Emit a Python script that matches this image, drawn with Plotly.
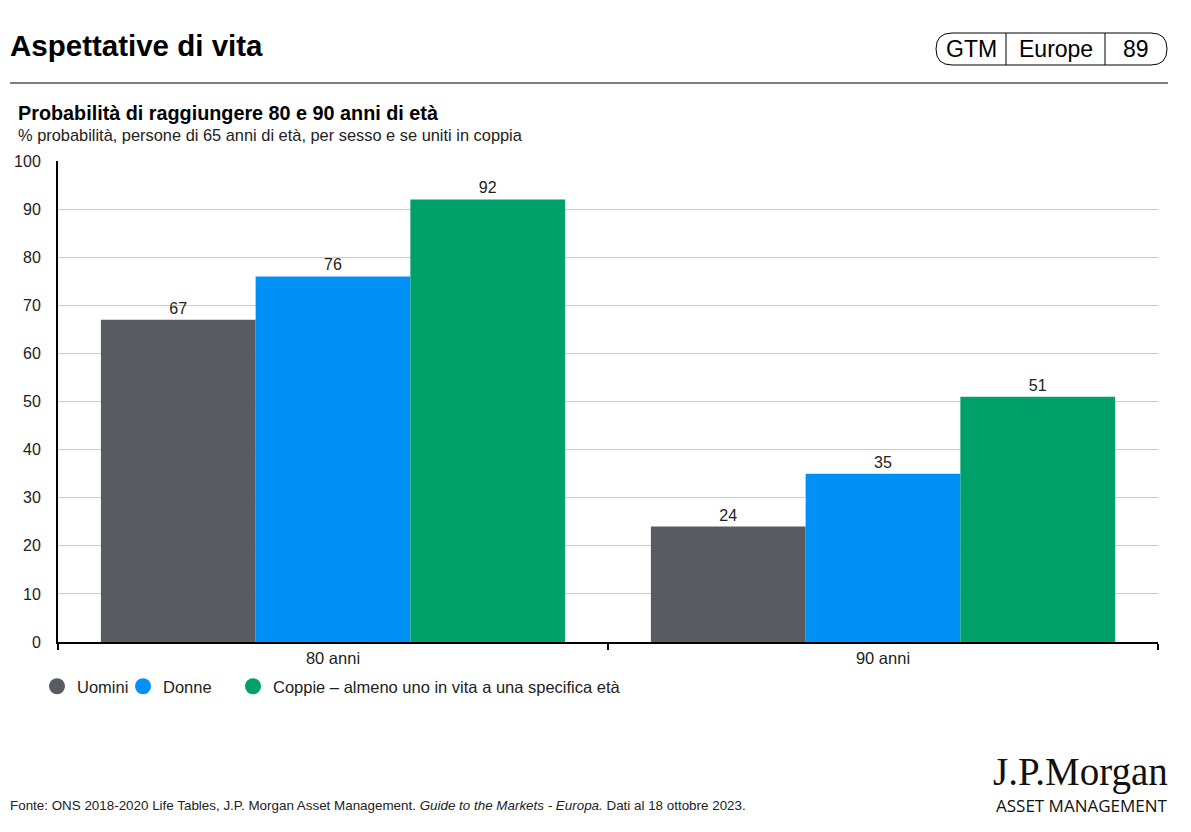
import plotly.graph_objects as go

categories = ["80 anni", "90 anni"]
series_names = ["Uomini", "Donne", "Coppie – almeno uno in vita a una specifica età"]
uomini = [67, 24]
donne = [76, 35]
coppie = [92, 51]
y_ticks = [0, 10, 20, 30, 40, 50, 60, 70, 80, 90, 100]

colors = ["#585b5f", "#0091f7", "#00a06b"]
values = [uomini, donne, coppie]
legend_ids = ["legend", "legend2", "legend3"]

FONT = "Liberation Sans, Arial"

fig = go.Figure()
for name, vals, col in zip(series_names, values, colors):
    fig.add_trace(go.Bar(
        x=categories, y=vals, name=name, marker_color=col, marker_line_width=0,
        text=[str(v) for v in vals], textposition="outside",
        textfont=dict(family=FONT, size=16, color="#222"),
        cliponaxis=False, showlegend=False))
for name, col, lg in zip(series_names, colors, legend_ids):
    fig.add_trace(go.Scatter(
        x=[None], y=[None], mode="markers", name=name, legend=lg,
        marker=dict(symbol="circle", size=18, color=col)))

# helpers: page pixel -> paper coords (plot area 58..1158 x, 161..642 y on page)
def px(x):
    return (x - 58) / 1100
def py(y):
    return 1 + (161 - y) / 481

def legend_at(xpage):
    return dict(orientation="h", x=px(xpage), y=py(669), xanchor="left", yanchor="top",
                font=dict(size=16.5, color="#222"), itemsizing="trace",
                bgcolor="rgba(0,0,0,0)")

fig.update_layout(
    width=1191, height=832,
    margin=dict(l=50, r=41, t=153, b=198, autoexpand=False),
    paper_bgcolor="white", plot_bgcolor="white",
    barmode="group", bargap=0.156, bargroupgap=0,
    font=dict(family=FONT, size=16, color="#222"),
    legend=legend_at(37),
    legend2=legend_at(123),
    legend3=legend_at(233),
    xaxis=dict(showline=True, linecolor="black", linewidth=2, ticks="outside",
               tickson="boundaries", ticklen=6, tickcolor="black", tickwidth=2,
               tickfont=dict(size=16.5, color="#222"), showgrid=False, automargin=False),
    yaxis=dict(range=[0, 100], tickvals=y_ticks, showline=True, linecolor="black",
               linewidth=2, showgrid=True, gridcolor="#cccccc", gridwidth=1,
               zeroline=False, ticks="", tickfont=dict(size=16, color="#222"),
               ticklabelstandoff=12, automargin=False),
)

# Header
fig.add_annotation(xref="paper", yref="paper", xanchor="left", yanchor="middle",
                   x=px(8), y=py(46), text="<b>Aspettative di vita</b>",
                   showarrow=False, font=dict(family=FONT, size=29.5, color="black"))
fig.add_shape(type="line", xref="paper", yref="paper",
              x0=px(10), x1=px(1168), y0=py(83), y1=py(83),
              line=dict(color="black", width=1))
# GTM pill
x0, x1, y0, y1, r = 936, 1167, 33, 65, 16
path = (f"M {px(x0+r)},{py(y0)} L {px(x1-r)},{py(y0)} "
        f"Q {px(x1)},{py(y0)} {px(x1)},{py((y0+y1)/2)} "
        f"Q {px(x1)},{py(y1)} {px(x1-r)},{py(y1)} "
        f"L {px(x0+r)},{py(y1)} "
        f"Q {px(x0)},{py(y1)} {px(x0)},{py((y0+y1)/2)} "
        f"Q {px(x0)},{py(y0)} {px(x0+r)},{py(y0)} Z")
fig.add_shape(type="path", xref="paper", yref="paper", path=path,
              line=dict(color="black", width=1))
for xd in [1006, 1105]:
    fig.add_shape(type="line", xref="paper", yref="paper", x0=px(xd), x1=px(xd),
                  y0=py(y0), y1=py(y1), line=dict(color="black", width=1))
for txt, xc in [("GTM", 971), ("Europe", 1055.5), ("89", 1136)]:
    fig.add_annotation(xref="paper", yref="paper", x=px(xc), y=py(49), text=txt,
                       showarrow=False, xanchor="center", yanchor="middle",
                       font=dict(family=FONT, size=23, color="black"))

# Subtitle
fig.add_annotation(xref="paper", yref="paper", xanchor="left", yanchor="middle",
                   x=px(16), y=py(113), text="<b>Probabilità di raggiungere 80 e 90 anni di età</b>",
                   showarrow=False, font=dict(family=FONT, size=19.8, color="black"))
fig.add_annotation(xref="paper", yref="paper", xanchor="left", yanchor="middle",
                   x=px(16), y=py(135), text="% probabilità, persone di 65 anni di età, per sesso e se uniti in coppia",
                   showarrow=False, font=dict(family=FONT, size=16.4, color="#222"))

# Footer
fig.add_annotation(xref="paper", yref="paper", xanchor="left", yanchor="middle",
                   x=px(8), y=py(805),
                   text="Fonte: ONS 2018-2020 Life Tables, J.P. Morgan Asset Management. <i>Guide to the Markets - Europa.</i> Dati al 18 ottobre 2023.",
                   showarrow=False, font=dict(family=FONT, size=13.4, color="#222"))
fig.add_annotation(xref="paper", yref="paper", xanchor="right", yanchor="middle",
                   x=px(1170), y=py(772), text="J.P.Morgan",
                   showarrow=False, font=dict(family="Liberation Serif, DejaVu Serif", size=39, color="#111"))
fig.add_annotation(xref="paper", yref="paper", xanchor="right", yanchor="middle",
                   x=px(1170), y=py(805), text="ASSET MANAGEMENT",
                   showarrow=False, font=dict(family="Open Sans, Liberation Sans", size=17, color="#111"))

fig.write_html("out.html")
